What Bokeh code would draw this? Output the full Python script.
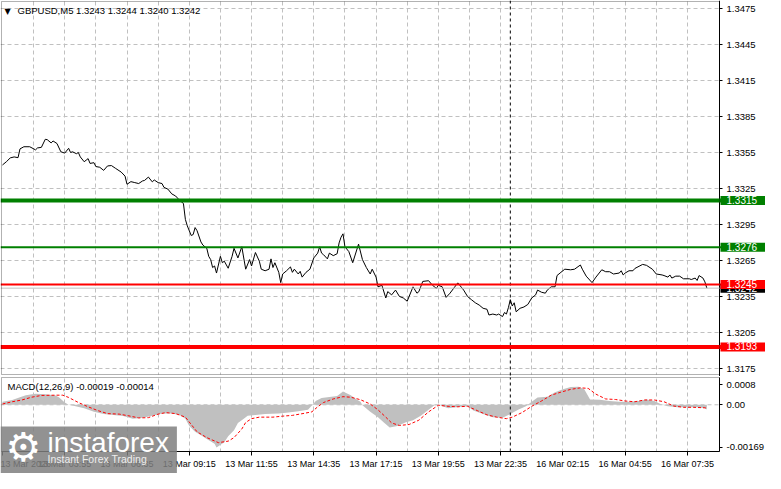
from bokeh.plotting import figure
from bokeh.layouts import column
from bokeh.models import Range1d, FixedTicker, Span, Label, PrintfTickFormatter, BoxAnnotation
from bokeh.embed import file_html
from bokeh.resources import INLINE

# ---------------- data ----------------
symbol_header = "GBPUSD,M5  1.3243 1.3244 1.3240 1.3242"
macd_header = "MACD(12,26,9) -0.00019 -0.00014"

price_bars = [
    0, 2, 4, 6, 8, 9, 11, 14, 17, 18,
    20, 22, 23, 25, 26, 28, 30, 32, 34, 35,
    36, 38, 39, 40, 42, 43, 44, 45, 47, 48,
    50, 52, 54, 56, 58, 61, 63, 64, 66, 68,
    70, 72, 73, 75, 77, 78, 80, 82, 83, 85,
    87, 89, 91, 93, 94, 95, 97, 98, 99, 100,
    102, 103, 105, 106, 107, 108, 109, 110, 112, 113,
    114, 116, 118, 119, 121, 123, 125, 127, 128, 130,
    132, 133, 135, 137, 138, 139, 140, 142, 143, 144,
    146, 148, 149, 150, 152, 153, 154, 156, 158, 160,
    162, 163, 164, 165, 167, 168, 170, 172, 173, 174,
    175, 176, 178, 180, 183, 185, 187, 189, 190, 192,
    193, 195, 197, 198, 200, 202, 204, 206, 208, 211,
    213, 214, 216, 219, 221, 223, 224, 226, 228, 230,
    234, 235, 237, 239, 241, 243, 245, 247, 249, 250,
    252, 254, 255, 257, 258, 259, 260, 261, 262, 263,
    264, 266, 268, 270, 272, 274, 275, 277, 279, 280,
    282, 284, 285, 287, 289, 292, 294, 297, 298, 300,
    303, 305, 308, 310, 312, 314, 317, 318, 319, 320,
    322, 324, 325, 329, 331, 334, 336, 339, 340, 342,
    343, 344, 346, 348, 350, 353, 354, 356, 357, 358,
    360, 361, 362,
]
price_close = [
    1.33447, 1.33474, 1.33506, 1.33514, 1.33508, 1.33581, 1.33599, 1.33599, 1.33573, 1.33589,
    1.33594, 1.33661, 1.33658, 1.33631, 1.33647, 1.33626, 1.33557, 1.33546, 1.33586, 1.33551,
    1.33557, 1.33541, 1.33551, 1.33514, 1.33474, 1.33487, 1.33500, 1.33460, 1.33466, 1.33434,
    1.33428, 1.33402, 1.33439, 1.33442, 1.33420, 1.33388, 1.33354, 1.33286, 1.33308, 1.33300,
    1.33292, 1.33314, 1.33318, 1.33346, 1.33306, 1.33322, 1.33300, 1.33292, 1.33260, 1.33246,
    1.33206, 1.33188, 1.33153, 1.33126, 1.32993, 1.32939, 1.32859, 1.32867, 1.32925, 1.32899,
    1.32805, 1.32779, 1.32752, 1.32685, 1.32658, 1.32592, 1.32605, 1.32546, 1.32685, 1.32632,
    1.32645, 1.32586, 1.32685, 1.32752, 1.32672, 1.32765, 1.32578, 1.32658, 1.32605, 1.32717,
    1.32645, 1.32578, 1.32565, 1.32578, 1.32664, 1.32592, 1.32632, 1.32552, 1.32466, 1.32538,
    1.32565, 1.32597, 1.32552, 1.32578, 1.32538, 1.32560, 1.32512, 1.32552, 1.32578, 1.32672,
    1.32712, 1.32765, 1.32712, 1.32699, 1.32664, 1.32712, 1.32691, 1.32707, 1.32797, 1.32845,
    1.32873, 1.32765, 1.32725, 1.32632, 1.32787, 1.32658, 1.32592, 1.32538, 1.32578, 1.32512,
    1.32431, 1.32444, 1.32338, 1.32391, 1.32364, 1.32404, 1.32351, 1.32338, 1.32311, 1.32431,
    1.32378, 1.32391, 1.32476, 1.32482, 1.32444, 1.32418, 1.32444, 1.32431, 1.32343, 1.32378,
    1.32464, 1.32444, 1.32404, 1.32351, 1.32324, 1.32298, 1.32279, 1.32252, 1.32244, 1.32196,
    1.32204, 1.32196, 1.32204, 1.32183, 1.32217, 1.32204, 1.32257, 1.32324, 1.32271, 1.32298,
    1.32223, 1.32252, 1.32263, 1.32284, 1.32338, 1.32364, 1.32404, 1.32386, 1.32378, 1.32404,
    1.32431, 1.32431, 1.32525, 1.32552, 1.32578, 1.32573, 1.32578, 1.32613, 1.32578, 1.32520,
    1.32466, 1.32512, 1.32573, 1.32557, 1.32557, 1.32538, 1.32546, 1.32565, 1.32530, 1.32546,
    1.32565, 1.32565, 1.32584, 1.32618, 1.32610, 1.32578, 1.32538, 1.32530, 1.32525, 1.32512,
    1.32530, 1.32504, 1.32520, 1.32520, 1.32498, 1.32498, 1.32492, 1.32504, 1.32484, 1.32525,
    1.32504, 1.32472, 1.32420,
]

level_prices = [1.3315, 1.3276, 1.3245, 1.3193]
level_colors = ["#008000", "#008000", "#ff0000", "#ff0000"]
level_widths = [4, 2, 2, 4]
bid_price = 1.3242

price_ticks = [1.3175, 1.3205, 1.3235, 1.3265, 1.3295, 1.3325,
               1.3355, 1.3385, 1.3415, 1.3445, 1.3475]

hist_bars = [
    0, 5, 9, 12, 17, 22, 27, 29, 32, 34,
    37, 42, 47, 52, 57, 62, 67, 72, 77, 82,
    87, 91, 94, 96, 99, 102, 105, 109, 110, 114,
    116, 119, 121, 124, 126, 130, 135, 142, 147, 152,
    157, 159, 161, 164, 167, 172, 175, 179, 182, 184,
    185, 189, 193, 196, 199, 203, 207, 211, 215, 219,
    222, 225, 229, 234, 239, 242, 247, 252, 257, 261,
    265, 269, 272, 275, 280, 284, 288, 292, 296, 299,
    302, 307, 312, 317, 322, 327, 331, 335, 339, 342,
    347, 352, 357, 361, 362,
]
hist_vals = [
    0.00012, 0.00019, 0.00030, 0.00038, 0.00044, 0.00042, 0.00038, 0.00030, 0.00009, 0.0,
    -0.00005, -0.00014, -0.00028, -0.00037, -0.00040, -0.00044, -0.00055, -0.00051, -0.00043, -0.00035,
    -0.00035, -0.00040, -0.00055, -0.00084, -0.00107, -0.00121, -0.00136, -0.00154, -0.00169, -0.00148,
    -0.00125, -0.00101, -0.00072, -0.00055, -0.00043, -0.00040, -0.00037, -0.00035, -0.00031, -0.00026,
    -0.00020, -0.00003, 0.00015, 0.00027, 0.00030, 0.00035, 0.00053, 0.00038, 0.00021, 0.00012,
    -0.00002, -0.00028, -0.00049, -0.00070, -0.00090, -0.00084, -0.00070, -0.00061, -0.00043, -0.00020,
    -0.00002, -0.00002, -0.00014, -0.00009, -0.00006, -0.00023, -0.00037, -0.00049, -0.00051, -0.00037,
    -0.00020, -0.00006, 0.00012, 0.00029, 0.00032, 0.00050, 0.00061, 0.00070, 0.00071, 0.00061,
    0.00021, 0.00020, 0.00015, 0.00012, 0.00012, 0.00015, 0.00021, 0.00015, 0.0, -0.00006,
    -0.00010, -0.00010, -0.00010, -0.00014, -0.00019,
]

sig_bars = [
    0, 5, 10, 15, 20, 27, 31, 34, 39, 44,
    49, 54, 60, 65, 70, 75, 80, 84, 89, 94,
    97, 100, 105, 111, 116, 119, 123, 125, 128, 132,
    139, 144, 149, 155, 159, 162, 165, 170, 175, 179,
    184, 189, 193, 197, 200, 204, 209, 214, 219, 224,
    229, 234, 239, 244, 249, 254, 259, 262, 267, 272,
    277, 282, 287, 292, 297, 301, 305, 310, 315, 320,
    325, 330, 335, 340, 345, 350, 355, 361, 362,
]
sig_vals = [
    0.00003, 0.00012, 0.00019, 0.00030, 0.00037, 0.00038, 0.00038, 0.00029, 0.00009, -0.00008,
    -0.00023, -0.00035, -0.00037, -0.00044, -0.00052, -0.00051, -0.00037, -0.00031, -0.00035, -0.00049,
    -0.00078, -0.00107, -0.00130, -0.00150, -0.00144, -0.00130, -0.00096, -0.00070, -0.00055, -0.00049,
    -0.00049, -0.00045, -0.00042, -0.00034, -0.00028, -0.00008, 0.00009, 0.00023, 0.00032, 0.00030,
    0.00020, 0.00003, -0.00020, -0.00049, -0.00072, -0.00082, -0.00078, -0.00061, -0.00028, -0.00002,
    -0.00006, -0.00008, -0.00006, -0.00023, -0.00040, -0.00049, -0.00055, -0.00049, -0.00031, -0.00006,
    0.00015, 0.00038, 0.00050, 0.00061, 0.00067, 0.00065, 0.00042, 0.00023, 0.00021, 0.00015,
    0.00012, 0.00019, 0.00019, 0.00012, -0.00005, -0.00010, -0.00010, -0.00012, -0.00014,
]

macd_ticks = [-0.00169, 0.0, 0.0008]
macd_tick_labels = ["-0.00169", "0.00", "0.0008"]

time_ticks = [0, 32, 64, 96, 128, 160, 192, 224, 256, 288, 320, 352]
time_labels = ["13 Mar 2026", "13 Mar 03:55", "13 Mar 06:35", "13 Mar 09:15",
               "13 Mar 11:55", "13 Mar 14:35", "13 Mar 17:15", "13 Mar 19:55",
               "13 Mar 22:35", "16 Mar 02:15", "16 Mar 04:55", "16 Mar 07:35"]
grid_bars = [16, 32, 48, 64, 80, 96, 112, 128, 144, 160, 176, 192, 208,
             224, 240, 256, 272, 288, 304, 320, 336, 352]
cursor_bar = 261

# ---------------- layout geometry ----------------
FONT = "Liberation Sans"
GRID = "#c0c0c0"
W = 765
MAIN_H, MACD_H = 376, 97
X0, X1 = -0.5, 368.5              # price area in bar units
PY0, PY1 = 1.3170, 1.3481         # price panel range
MY0, MY1 = -0.00185, 0.00108      # MACD panel range
AREA_W = 718                      # px of the price area
PPB = AREA_W / (X1 - X0)
XS = X0 - 1 / PPB
XE = XS + W / PPB
P_UPP = (PY1 - PY0) / 373
M_UPP = (MY1 - MY0) / 74

x_range = Range1d(XS, XE)


def mask(p, **kw):
    p.add_layout(BoxAnnotation(fill_color="white", fill_alpha=1, line_color=None,
                               level="underlay", **kw))


def style_fig(p):
    p.background_fill_color = "white"
    p.border_fill_color = "white"
    p.outline_line_color = None
    p.xgrid.ticker = FixedTicker(ticks=grid_bars)
    p.xgrid.grid_line_color = GRID
    p.xgrid.grid_line_dash = "4 3"


def style_yaxis(ax):
    ax.fixed_location = X1
    ax.axis_line_color = "black"
    ax.major_tick_line_color = "black"
    ax.major_tick_out = 3
    ax.major_tick_in = 0
    ax.minor_tick_line_color = None
    ax.major_label_standoff = 4
    ax.major_label_text_font = FONT
    ax.major_label_text_font_size = "9.5px"
    ax.major_label_text_color = "black"


def tag(p, y, txt, col):
    p.add_layout(Label(x=X1, y=y, x_offset=1, text=txt, text_color="white",
                       text_font=FONT, text_font_size="10px", text_baseline="middle",
                       text_align="left", level="overlay", background_fill_color=col,
                       padding=dict(left=6, right=14, top=0, bottom=1)))


# ---------------- main price panel ----------------
main = figure(width=W, height=MAIN_H, x_range=x_range,
              y_range=Range1d(PY0 - 2 * P_UPP, PY1 + 1 * P_UPP),
              output_backend="svg", toolbar_location=None, y_axis_location="right",
              min_border=0)
style_fig(main)
main.xaxis.visible = False
main.ygrid.grid_line_color = GRID
main.ygrid.grid_line_dash = "4 3"
mask(main, left=X1)
mask(main, top=PY0)
ya = main.yaxis[0]
ya.ticker = FixedTicker(ticks=price_ticks)
ya.formatter = PrintfTickFormatter(format="%.4f")
style_yaxis(ya)

main.add_layout(Span(location=cursor_bar, dimension="height", line_color="black",
                     line_width=1, line_dash="3 3"))
main.add_layout(Span(location=bid_price, dimension="width", line_color="#c0c0c0", line_width=1))
main.line(price_bars, price_close, line_color="black", line_width=1)
for lv, col, lw in zip(level_prices, level_colors, level_widths):
    main.add_layout(Span(location=lv, dimension="width", line_color=col, line_width=lw))
main.add_layout(BoxAnnotation(left=X0, right=X1, bottom=PY0, top=PY1, fill_color=None,
                              line_color="black", line_width=1))

tag(main, bid_price, f"{bid_price:.4f}", "black")
for lv, col in zip(level_prices, level_colors):
    tag(main, lv, f"{lv:.4f}", col)

main.add_layout(Label(x=X0, y=PY1, x_offset=3, y_offset=-5, text="\u25bc",
                      text_font="DejaVu Sans", text_font_size="8px", text_color="black",
                      text_baseline="top", text_align="left"))
main.add_layout(Label(x=X0, y=PY1, x_offset=16, y_offset=-3, text=symbol_header,
                      text_font=FONT, text_font_size="9.5px", text_color="black",
                      text_baseline="top", text_align="left"))

# ---------------- MACD panel ----------------
macd = figure(width=W, height=MACD_H, x_range=x_range,
              y_range=Range1d(MY0 - 22 * M_UPP, MY1 + 1 * M_UPP),
              output_backend="svg", toolbar_location=None, y_axis_location="right",
              min_border=0)
style_fig(macd)
macd.ygrid.grid_line_color = None
macd.add_layout(Span(location=0, dimension="width", line_color=GRID, line_width=1,
                     line_dash="4 3", level="underlay"))
mask(macd, left=X1)
mask(macd, top=MY0)
macd.varea(x=hist_bars, y1=0, y2=hist_vals, fill_color="#c0c0c0")
macd.line(sig_bars, sig_vals, line_color="#ff0000", line_width=1, line_dash="3 2")
macd.segment(x0=cursor_bar, y0=MY0, x1=cursor_bar, y1=MY1, line_color="black",
             line_width=1, line_dash="3 3")
macd.add_layout(BoxAnnotation(left=X0, right=X1, bottom=MY0, top=MY1, fill_color=None,
                              line_color="black", line_width=1))

yb = macd.yaxis[0]
yb.ticker = FixedTicker(ticks=macd_ticks)
yb.major_label_overrides = dict(zip(macd_ticks, macd_tick_labels))
yb.bounds = (MY0, MY1)
style_yaxis(yb)

xa = macd.xaxis[0]
xa.fixed_location = MY0
xa.bounds = (X0, X1)
xa.ticker = FixedTicker(ticks=time_ticks)
xa.major_label_overrides = dict(zip(time_ticks, time_labels))
xa.axis_line_color = "black"
xa.major_tick_line_color = "black"
xa.major_tick_out = 4
xa.major_tick_in = 0
xa.minor_tick_line_color = None
xa.major_label_standoff = 3
xa.major_label_text_align = "left"
xa.major_label_text_font = FONT
xa.major_label_text_font_size = "9px"
xa.major_label_text_color = "black"

macd.add_layout(Label(x=X0, y=MY1, x_offset=6, y_offset=-3, text=macd_header,
                      text_font=FONT, text_font_size="9.5px", text_color="black",
                      text_baseline="top", text_align="left"))

# watermark (box anchored at its top-left corner)
WM_Y = MY1 + 1 * M_UPP - 50 * M_UPP
macd.add_layout(Label(x=XS, y=WM_Y, text="instaforex",
                      text_font=FONT, text_font_size="28px", text_color="white",
                      text_baseline="top", text_align="left", level="overlay",
                      background_fill_color="#7f7f7f", background_fill_alpha=0.85,
                      padding=dict(left=47, right=8, top=0, bottom=17)))
macd.add_layout(Label(x=XS, y=WM_Y, x_offset=5, y_offset=3, text="\u2699",
                      text_font="DejaVu Sans", text_font_size="40px", text_color="white",
                      text_baseline="top", text_align="left", level="overlay"))
macd.add_layout(Label(x=XS, y=WM_Y, x_offset=47, y_offset=-26, text="Instant Forex Trading",
                      text_font=FONT, text_font_size="10.5px", text_color="#eeeeee",
                      text_baseline="top", text_align="left", level="overlay"))

layout = column(main, macd, spacing=0)
open("out.html", "w").write(file_html(layout, INLINE))
